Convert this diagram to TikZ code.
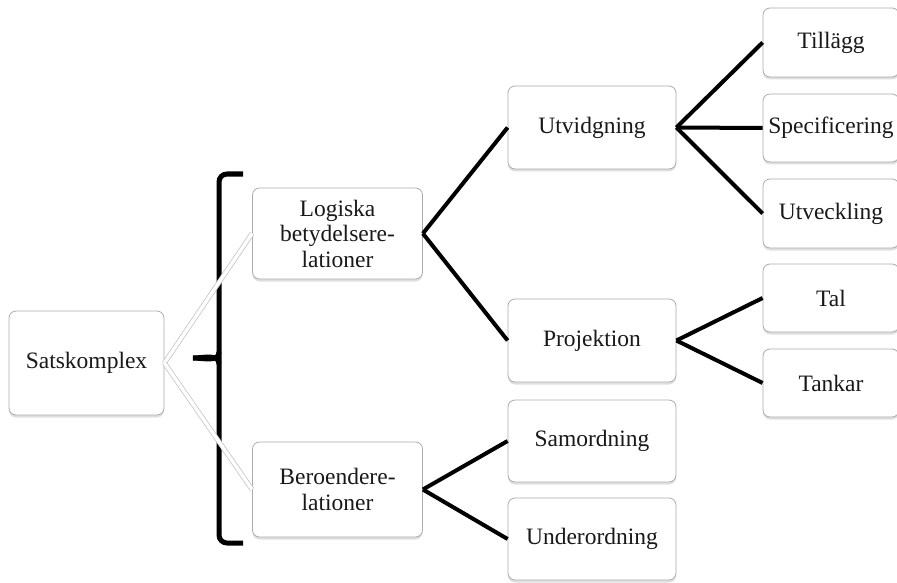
\documentclass[tikz,border=0pt]{standalone}
\usepackage{fontspec}
\setmainfont{Liberation Serif}
\usetikzlibrary{shadows}
\begin{document}
\begin{tikzpicture}[x=1pt,y=-1pt,
  box/.style={draw=gray!65, line width=0.8pt, fill=white, rounded corners=7pt,
    align=center, inner sep=2pt, font=\fontsize{23.5}{25.5}\selectfont, text=black!90,
    drop shadow={opacity=0.25, shadow xshift=0pt, shadow yshift=-2.5pt}},
  link/.style={line width=4pt, black},
  wlink/.style={draw=gray!50, line width=0.7pt, double=white, double distance=3.5pt},
  brace/.style={line width=5pt, black, rounded corners=8pt}]
\useasboundingbox (0,0) rectangle (897,583);
\clip (0,0) rectangle (897,583);
% main boxes
\node[box, minimum width=155pt, minimum height=104pt] (sats) at (86.5,363) {Satskomplex};
\node[box, minimum width=170pt, minimum height=91pt] (log) at (337.5,233.5) {Logiska\\betydelsere-\\lationer};
\node[box, minimum width=170pt, minimum height=95pt] (ber) at (337.5,489.5) {Beroendere-\\lationer};
\node[box, minimum width=168pt, minimum height=83pt] (utv) at (592,127.5) {Utvidgning};
\node[box, minimum width=168pt, minimum height=83pt] (proj) at (592,340.5) {Projektion};
\node[box, minimum width=168pt, minimum height=82pt] (sam) at (592,441) {Samordning};
\node[box, minimum width=168pt, minimum height=82pt] (und) at (592,539) {Underordning};
\node[box, minimum width=136pt, minimum height=69pt] (till) at (831,42.5) {Tillägg};
\node[box, minimum width=136pt, minimum height=68pt] (spec) at (831,128) {Specificering};
\node[box, minimum width=136pt, minimum height=69pt] (utve) at (831,213.5) {Utveckling};
\node[box, minimum width=136pt, minimum height=68pt] (tal) at (831,298) {Tal};
\node[box, minimum width=136pt, minimum height=68pt] (tank) at (831,383) {Tankar};
% bracket
\coordinate (bt) at (243,174);
\coordinate (bb) at (243,543);
\coordinate (bm) at (193,358);
\draw[brace] (bt) -- (219,174) -- (219,543) -- (bb);
\draw[line width=5pt, black] (bm) to[out=0,in=-90] (219,352);
\draw[line width=5pt, black] (bm) to[out=0,in=90] (219,364);
% white connectors
\draw[wlink] (sats.east) -- (log.west);
\draw[wlink] (sats.east) -- (ber.west);
% black connectors
\draw[link] (log.east) -- (utv.west);
\draw[link] (log.east) -- (proj.west);
\draw[link] (utv.east) -- (till.west);
\draw[link] (utv.east) -- (spec.west);
\draw[link] (utv.east) -- (utve.west);
\draw[link] (proj.east) -- (tal.west);
\draw[link] (proj.east) -- (tank.west);
\draw[link] (ber.east) -- (sam.west);
\draw[link] (ber.east) -- (und.west);
\end{tikzpicture}
\end{document}
